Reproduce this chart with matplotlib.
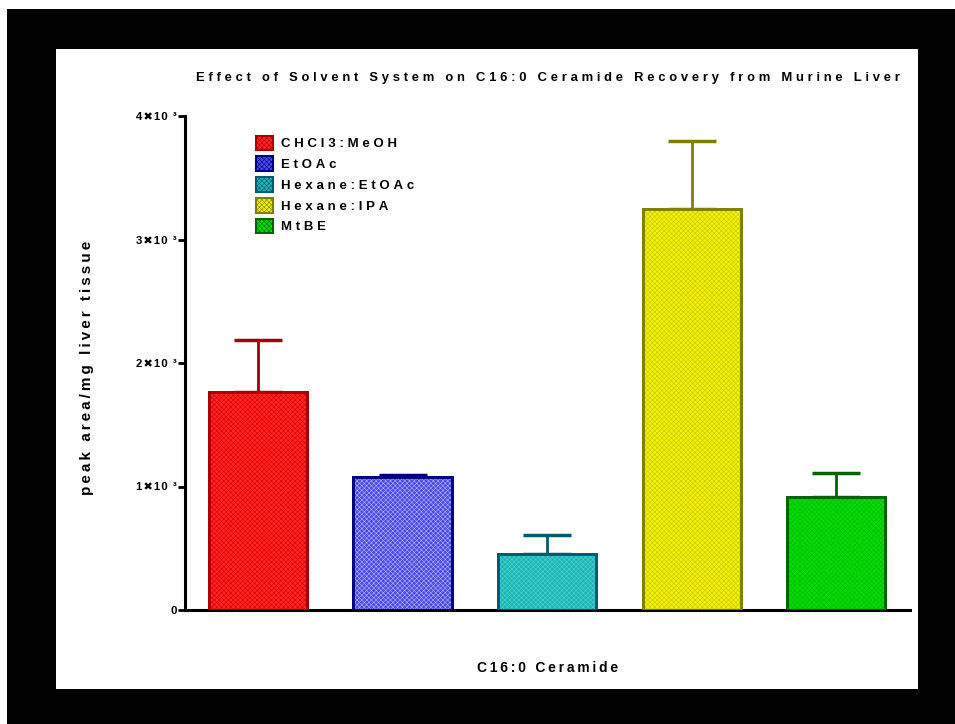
import numpy as np
import matplotlib.pyplot as plt
from matplotlib.patches import Rectangle, Patch

# --- values (peak area / mg liver tissue) ---
solvents = ["CHCl3:MeOH", "EtOAc", "Hexane:EtOAc", "Hexane:IPA", "MtBE"]
means = [1765, 1077, 453, 3247, 915]
sem = [421, 13, 154, 551, 194]

fill_colors = ["#ff2424", "#4a4ae6", "#22b4b4", "#f0f000", "#00e000"]
hatch_colors = ["#d80000", "#b4b4ff", "#40d8d0", "#c8c800", "#00b400"]
edge_colors = ["#a80000", "#000080", "#005a6e", "#808000", "#006400"]

yticks = [0, 1000, 2000, 3000, 4000]
ytick_labels = ["0", "1✖10 ³", "2✖10 ³", "3✖10 ³", "4✖10 ³"]

FONT = ["Liberation Sans", "DejaVu Sans"]
plt.rcParams["font.family"] = FONT
plt.rcParams["hatch.linewidth"] = 0.4

WIDE = "\u2009\u200a"


def spaced(s, gap="\u2009"):
    # wide letter spacing between glyphs
    return gap.join(s)


fig = plt.figure(figsize=(9.55, 7.24), dpi=100)

# black frame around a white page
fig.patches.append(Rectangle((7 / 955, 0), 1 - 7 / 955, (724 - 9) / 724,
                             transform=fig.transFigure, facecolor="black",
                             edgecolor="none", zorder=-2))
fig.patches.append(Rectangle((56 / 955, 35 / 724), 862 / 955, 640 / 724,
                             transform=fig.transFigure, facecolor="white",
                             edgecolor="none", zorder=-1))

ax = fig.add_axes([185 / 955, 114 / 724, 725 / 955, 494 / 724])
ax.patch.set_alpha(0)

x = np.arange(len(solvents))
ax.bar(x, means, width=0.68, color=fill_colors, edgecolor=edge_colors,
       linewidth=2, zorder=2)
# fine texture over each bar
for xi, m, hc in zip(x, means, hatch_colors):
    ax.bar(xi, m, width=0.68, facecolor="none", edgecolor=hc, hatch="xxxxxxx",
           linewidth=0, zorder=2.5)
# redraw outlines on top of the texture
ax.bar(x, means, width=0.68, facecolor="none", edgecolor=edge_colors,
       linewidth=2, zorder=3)

for xi, m, e, ec in zip(x, means, sem, edge_colors):
    ax.errorbar(xi, m, yerr=[[0], [e]], fmt="none", ecolor=ec, elinewidth=2,
                capsize=17.5, capthick=2.5, zorder=1)

ax.set_xlim(-0.505, 4.51)
ax.set_ylim(0, 4000)
ax.set_xticks([])
ax.set_yticks(yticks)
ax.set_yticklabels([spaced(t, "\u200a") for t in ytick_labels],
                   fontsize=8.2, fontweight="bold")
ax.tick_params(axis="y", direction="out", length=5, width=2, pad=1)

for side in ["top", "right"]:
    ax.spines[side].set_visible(False)
for side in ["left", "bottom"]:
    ax.spines[side].set_linewidth(2.2)

ax.set_title(spaced("Effect of Solvent System on C16:0 Ceramide Recovery from Murine Liver", WIDE),
             fontsize=9.4, fontweight="bold", pad=25, x=0.5)
ax.set_ylabel(spaced("peak area/mg liver tissue"), fontsize=11, fontweight="bold",
              labelpad=29)
ax.yaxis.set_label_coords(-0.125, 0.49)
ax.set_xlabel(spaced("C16:0 Ceramide"), fontsize=10, fontweight="bold", labelpad=37)

handles = [Patch(facecolor=fc, edgecolor=ec, hatch="xxxxxxx", linewidth=1.5)
           for fc, ec in zip(fill_colors, edge_colors)]
leg = ax.legend(handles, [spaced(s, WIDE) for s in solvents], loc="upper left",
                bbox_to_anchor=(0.09, 0.971), frameon=False,
                prop={"family": FONT, "weight": "bold", "size": 9.5},
                handlelength=1.3, handleheight=1.35, handletextpad=0.6,
                labelspacing=0.45, borderaxespad=0)

fig.savefig("out.png", dpi=100)
